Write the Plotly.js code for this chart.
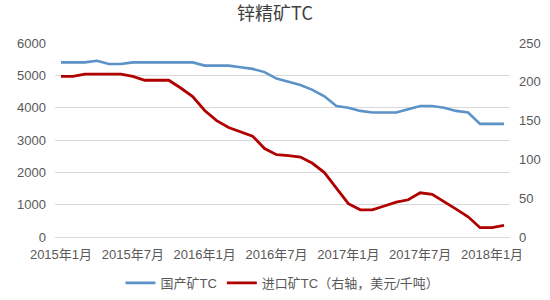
<!DOCTYPE html>
<html>
<head>
<meta charset="utf-8">
<script src="https://cdn.plot.ly/plotly-3.0.1.min.js"></script>
<style>html,body{margin:0;padding:0;background:#fff;}#chart{width:550px;height:300px;}</style>
</head>
<body>
<div id="chart"></div>
<script>
const months = [
  "2015年1月","2015年2月","2015年3月","2015年4月","2015年5月","2015年6月",
  "2015年7月","2015年8月","2015年9月","2015年10月","2015年11月","2015年12月",
  "2016年1月","2016年2月","2016年3月","2016年4月","2016年5月","2016年6月",
  "2016年7月","2016年8月","2016年9月","2016年10月","2016年11月","2016年12月",
  "2017年1月","2017年2月","2017年3月","2017年4月","2017年5月","2017年6月",
  "2017年7月","2017年8月","2017年9月","2017年10月","2017年11月","2017年12月",
  "2018年1月","2018年2月"
];
const domesticTC = [
  5400,5400,5400,5450,5350,5350,
  5400,5400,5400,5400,5400,5400,
  5300,5300,5300,5250,5200,5100,
  4900,4800,4700,4550,4350,4050,
  4000,3900,3850,3850,3850,3950,
  4050,4050,4000,3900,3850,3500,
  3500,3500
];
const importTC = [
  207,207,210,210,210,210,
  207,202,202,202,192,181,
  163,150,141,136,130,114,
  106,105,103,95,83,63,
  43,35,35,40,45,48,
  57,55,46,36,26,12,
  12,15
];
const tickLabels = ["2015年1月","2015年7月","2016年1月","2016年7月","2017年1月","2017年7月","2018年1月"];

const font = "Liberation Sans, Arial, 'Noto Sans CJK SC', sans-serif";
const traces = [
  {x: months, y: domesticTC, name: "国产矿TC", type: "scatter", mode: "lines",
   line: {color: "#5B93C8", width: 2.6}, yaxis: "y"},
  {x: months, y: importTC, name: "进口矿TC（右轴，美元/千吨）", type: "scatter", mode: "lines",
   line: {color: "#B00000", width: 2.8}, yaxis: "y2"}
];
const layout = {
  width: 550, height: 300,
  margin: {l: 55, r: 40, t: 43, b: 63, autoexpand: false},
  paper_bgcolor: "#ffffff", plot_bgcolor: "#ffffff",
  font: {family: font, size: 13, color: "#595959"},
  title: {text: "锌精矿TC", x: 0.5, xanchor: "center", y: 0.955, yanchor: "middle",
          font: {family: "'Noto Sans CJK SC', sans-serif", size: 18, color: "#404040"}},
  showlegend: true,
  legend: {orientation: "h", x: 0.5, xanchor: "center", yref: "container", y: 0.057, yanchor: "middle",
           font: {family: font, size: 13, color: "#595959"}, itemwidth: 30, tracegroupgap: 0},
  xaxis: {type: "category", tickmode: "array", tickvals: tickLabels, ticktext: tickLabels,
          range: [-0.5, months.length - 0.5], showgrid: false, showline: true,
          linecolor: "#d9d9d9", linewidth: 1, ticks: "", ticklabelstandoff: 5,
          tickfont: {size: 13, color: "#595959"}, zeroline: false},
  yaxis: {range: [0, 6000], dtick: 1000, showgrid: true, gridcolor: "#d9d9d9", gridwidth: 1,
          zeroline: false, showline: false, ticks: "", ticklabelstandoff: 8,
          tickfont: {size: 13, color: "#595959"}},
  yaxis2: {range: [0, 250], dtick: 50, overlaying: "y", side: "right", showgrid: false,
           zeroline: false, showline: false, ticks: "", ticklabelstandoff: 8,
           tickfont: {size: 13, color: "#595959"}}
};
Plotly.newPlot("chart", traces, layout, {displayModeBar: false, staticPlot: true});
</script>
</body>
</html>
